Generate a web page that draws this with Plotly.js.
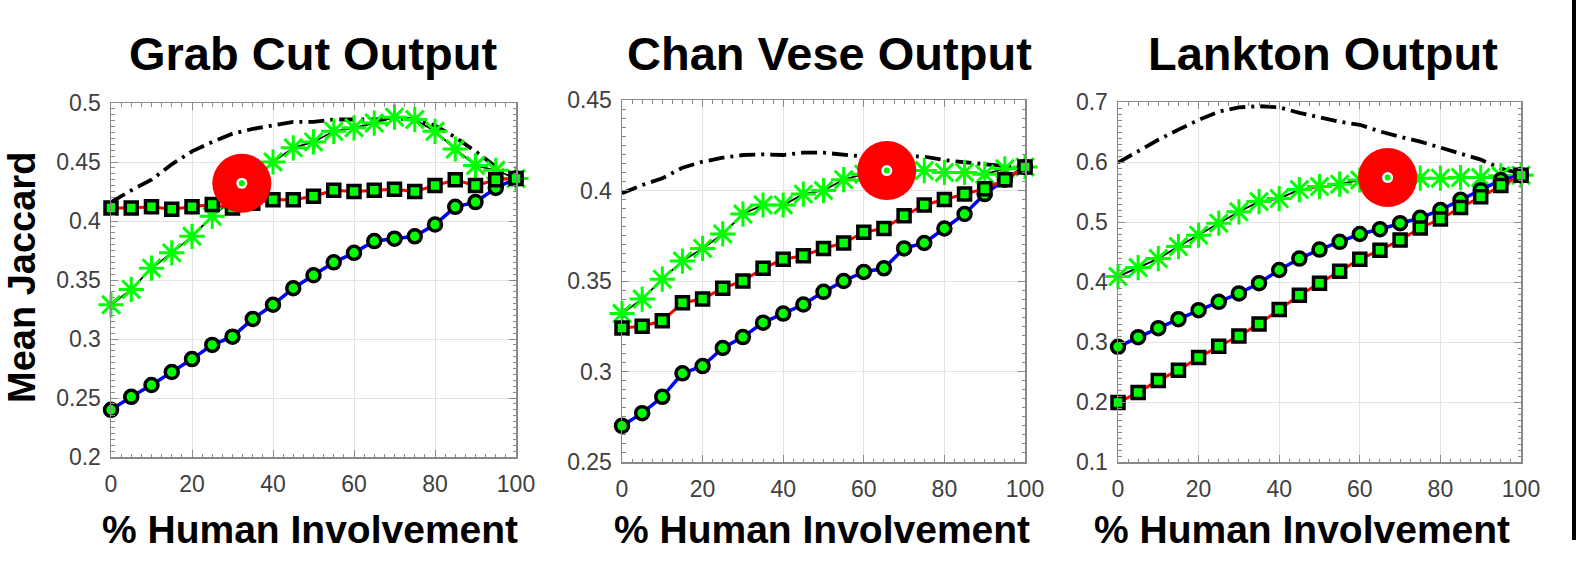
<!DOCTYPE html>
<html>
<head>
<meta charset="utf-8">
<script src="https://cdn.plot.ly/plotly-3.0.1.min.js"></script>
<style>html,body{margin:0;padding:0;background:#fff;}#chart{width:1579px;height:572px;}</style>
</head>
<body>
<div id="chart"></div>
<script>
// ---- data ----
const humanPct = [0,5,10,15,20,25,30,35,40,45,50,55,60,65,70,75,80,85,90,95,100];

const panelTitles = ["Grab Cut Output", "Chan Vese Output", "Lankton Output"];
const xTitle = "% Human Involvement";
const yTitle = "Mean Jaccard";

const xTickVals = [0,20,40,60,80,100];
const xTickText = ["0","20","40","60","80","100"];

const gcTickVals = [0.2,0.25,0.3,0.35,0.4,0.45,0.5];
const gcTickText = ["0.2","0.25","0.3","0.35","0.4","0.45","0.5"];
const cvTickVals = [0.25,0.3,0.35,0.4,0.45];
const cvTickText = ["0.25","0.3","0.35","0.4","0.45"];
const lkTickVals = [0.1,0.2,0.3,0.4,0.5,0.6,0.7];
const lkTickText = ["0.1","0.2","0.3","0.4","0.5","0.6","0.7"];

// Grab Cut
const gcUpper  = [0.416,0.426,0.435,0.448,0.459,0.467,0.474,0.478,0.481,0.484,0.484,0.486,0.486,0.486,0.487,0.486,0.481,0.471,0.459,0.446,0.437];
const gcStar   = [0.329,0.342,0.360,0.373,0.387,0.404,0.418,0.434,0.450,0.462,0.467,0.476,0.479,0.483,0.488,0.486,0.476,0.461,0.447,0.443,0.436];
const gcSquare = [0.411,0.411,0.412,0.410,0.412,0.414,0.411,0.415,0.418,0.418,0.421,0.426,0.425,0.426,0.427,0.425,0.430,0.435,0.430,0.435,0.436];
const gcCircle = [0.240,0.251,0.261,0.272,0.283,0.295,0.302,0.317,0.329,0.343,0.354,0.365,0.373,0.383,0.385,0.387,0.397,0.412,0.416,0.428,0.436];
const gcMarkX = [32.3], gcMarkY = [0.432];

// Chan Vese
const cvUpper  = [0.3985,0.403,0.4067,0.4126,0.4159,0.4181,0.4196,0.420,0.4196,0.4209,0.4209,0.4196,0.4187,0.4187,0.4191,0.4187,0.4168,0.4156,0.4145,0.4135,0.4135];
const cvStar   = [0.332,0.340,0.351,0.361,0.368,0.376,0.387,0.392,0.392,0.398,0.400,0.406,0.409,0.411,0.411,0.411,0.410,0.410,0.409,0.412,0.413];
const cvSquare = [0.324,0.325,0.328,0.338,0.340,0.346,0.350,0.357,0.362,0.364,0.368,0.371,0.377,0.379,0.386,0.392,0.395,0.398,0.401,0.406,0.413];
const cvCircle = [0.270,0.277,0.286,0.299,0.303,0.313,0.319,0.327,0.332,0.337,0.344,0.350,0.355,0.357,0.368,0.371,0.379,0.387,0.398,0.406,0.413];
const cvMarkX = [65.7], cvMarkY = [0.411];

// Lankton
const lkUpper  = [0.599,0.618,0.637,0.654,0.670,0.684,0.691,0.693,0.691,0.682,0.674,0.667,0.662,0.651,0.642,0.634,0.624,0.614,0.604,0.589,0.581];
const lkStar   = [0.409,0.424,0.439,0.459,0.478,0.498,0.517,0.534,0.539,0.554,0.559,0.563,0.570,0.573,0.573,0.573,0.573,0.574,0.574,0.577,0.578];
const lkSquare = [0.199,0.216,0.236,0.253,0.274,0.293,0.310,0.330,0.354,0.378,0.398,0.418,0.438,0.453,0.470,0.490,0.505,0.524,0.542,0.561,0.578];
const lkCircle = [0.292,0.308,0.323,0.338,0.353,0.367,0.381,0.398,0.420,0.439,0.454,0.467,0.480,0.488,0.498,0.507,0.520,0.537,0.553,0.570,0.578];
const lkMarkX = [66.9], lkMarkY = [0.574];

// ---- build ----
const W = 1579, H = 572;
const FONT = "Liberation Sans, Arial, sans-serif";
const panels = [
  {upper: gcUpper, star: gcStar, sq: gcSquare, ci: gcCircle, mx: gcMarkX, my: gcMarkY,
   range: [0.2,0.5], tv: gcTickVals, tt: gcTickText, minor: 0.005,
   px: [111,516], py: [103,457], titleX: 313, xTitleX: 310},
  {upper: cvUpper, star: cvStar, sq: cvSquare, ci: cvCircle, mx: cvMarkX, my: cvMarkY,
   range: [0.25,0.45], tv: cvTickVals, tt: cvTickText, minor: 0.005,
   px: [622,1025], py: [100,462], titleX: 829, xTitleX: 822},
  {upper: lkUpper, star: lkStar, sq: lkSquare, ci: lkCircle, mx: lkMarkX, my: lkMarkY,
   range: [0.1,0.7], tv: lkTickVals, tt: lkTickText, minor: 0.01,
   px: [1118,1521], py: [102,462], titleX: 1323, xTitleX: 1302}
];

const traces = [];
const layout = {
  width: W, height: H,
  margin: {l:0, r:0, t:0, b:0},
  paper_bgcolor: "#ffffff", plot_bgcolor: "#ffffff",
  showlegend: false,
  font: {family: FONT},
  annotations: [], shapes: []
};

panels.forEach((p, i) => {
  const n = i === 0 ? "" : String(i + 1);
  const xa = "x" + n, ya = "y" + n;
  const common = {xaxis: xa, yaxis: ya, x: humanPct, cliponaxis: false, hoverinfo: "skip"};
  traces.push(Object.assign({}, common, {
    y: p.upper, mode: "lines",
    line: {color: "#000000", width: 3.8, dash: "16px,6px,3px,6px"}
  }));
  traces.push(Object.assign({}, common, {
    y: p.star, mode: "lines+markers",
    line: {color: "#000000", width: 1.8},
    marker: {symbol: "asterisk-open", size: 21, color: "#00ff00", line: {color: "#00ff00", width: 3}}
  }));
  traces.push(Object.assign({}, common, {
    y: p.ci, mode: "lines+markers",
    line: {color: "#0000ff", width: 3.5},
    marker: {symbol: "circle", size: 13, color: "#00ff00", line: {color: "#000000", width: 3.5}}
  }));
  traces.push(Object.assign({}, common, {
    y: p.sq, mode: "lines+markers",
    line: {color: "#ff0000", width: 3},
    marker: {symbol: "square", size: 12, color: "#00ff00", line: {color: "#000000", width: 3.5}}
  }));
  traces.push({xaxis: xa, yaxis: ya, x: p.mx, y: p.my, mode: "markers", cliponaxis: false, hoverinfo: "skip",
    marker: {symbol: "circle", size: 59, color: "#ff0000", line: {width: 0}}});
  traces.push({xaxis: xa, yaxis: ya, x: p.mx, y: p.my, mode: "markers", cliponaxis: false, hoverinfo: "skip",
    marker: {symbol: "circle", size: 11, color: "#ffffff", line: {width: 0}}});
  traces.push({xaxis: xa, yaxis: ya, x: p.mx, y: p.my, mode: "markers", cliponaxis: false, hoverinfo: "skip",
    marker: {symbol: "circle", size: 6, color: "#00ee00", line: {width: 0}}});

  const axisStyle = {
    showline: true, linecolor: "#8a8a8a", linewidth: 1.5, mirror: "allticks",
    ticks: "inside", ticklen: 7, tickwidth: 1, tickcolor: "#8a8a8a",
    showgrid: true, gridcolor: "#e3e3e3", gridwidth: 1, zeroline: false,
    tickfont: {family: FONT, size: 23, color: "#404040"},
    fixedrange: true
  };
  layout["xaxis" + n] = Object.assign({}, axisStyle, {
    domain: [p.px[0] / W, p.px[1] / W], anchor: ya,
    range: [0, 100], tickmode: "array", tickvals: xTickVals, ticktext: xTickText,
    ticklabelstandoff: 6,
    minor: {ticks: "inside", ticklen: 3.5, tickcolor: "#8a8a8a", dtick: 2.5, showgrid: false}
  });
  layout["yaxis" + n] = Object.assign({}, axisStyle, {
    domain: [1 - p.py[1] / H, 1 - p.py[0] / H], anchor: xa,
    range: p.range, tickmode: "array", tickvals: p.tv, ticktext: p.tt,
    ticklabelstandoff: 4,
    minor: {ticks: "inside", ticklen: 3.5, tickcolor: "#8a8a8a", dtick: p.minor, showgrid: false}
  });

  layout.annotations.push({
    xref: "paper", yref: "paper", x: p.titleX / W, y: 1 - 53 / H,
    xanchor: "center", yanchor: "middle", showarrow: false,
    text: "<b>" + panelTitles[i] + "</b>",
    font: {family: FONT, size: 47, color: "#000000"}
  });
  layout.annotations.push({
    xref: "paper", yref: "paper", x: p.xTitleX / W, y: 1 - 529 / H,
    xanchor: "center", yanchor: "middle", showarrow: false,
    text: "<b>" + xTitle + "</b>",
    font: {family: FONT, size: 39, color: "#000000"}
  });
});

layout.annotations.push({
  xref: "paper", yref: "paper", x: 22 / W, y: 1 - 278 / H,
  xanchor: "center", yanchor: "middle", showarrow: false, textangle: -90,
  text: "<b>" + yTitle + "</b>",
  font: {family: FONT, size: 38, color: "#000000"}
});

layout.shapes.push({
  type: "line", xref: "paper", yref: "paper",
  x0: 1574 / W, x1: 1574 / W, y0: 1, y1: 1 - 540 / H,
  line: {color: "#000000", width: 4}
});

Plotly.newPlot("chart", traces, layout, {staticPlot: true, displayModeBar: false});
</script>
</body>
</html>
